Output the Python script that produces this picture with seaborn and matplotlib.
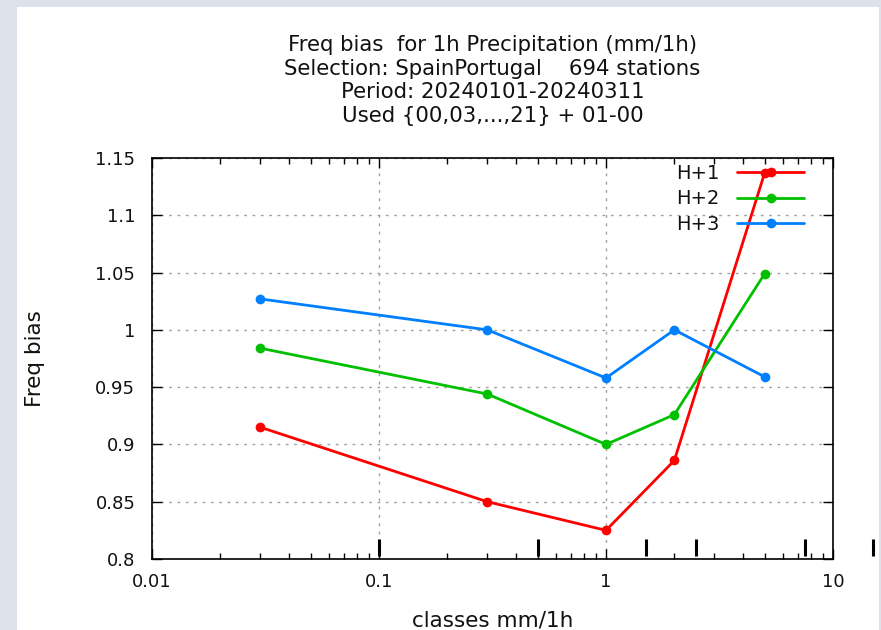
import numpy as np
import pandas as pd
import seaborn as sns
import matplotlib.pyplot as plt
from matplotlib.patches import Rectangle
from matplotlib.ticker import FixedLocator, LogLocator, NullFormatter

# values
classes = [0.03, 0.3, 1, 2, 5]
h1 = [0.915, 0.850, 0.825, 0.886, 1.137]
h2 = [0.984, 0.944, 0.900, 0.926, 1.049]
h3 = [1.027, 1.000, 0.958, 1.000, 0.959]
series_names = ["H+1", "H+2", "H+3"]
series_colors = ["#ff0000", "#00c000", "#0080ff"]
class_limits = [0.1, 0.5, 1.5, 2.5, 7.5, 15]
y_ticks = [0.8, 0.85, 0.9, 0.95, 1.0, 1.05, 1.1, 1.15]
y_ticklabels = ["0.8", "0.85", "0.9", "0.95", "1", "1.05", "1.1", "1.15"]
x_ticks = [0.01, 0.1, 1, 10]
x_ticklabels = ["0.01", "0.1", "1", "10"]

title = ("Freq bias  for 1h Precipitation (mm/1h)\n"
         "Selection: SpainPortugal    694 stations\n"
         "Period: 20240101-20240311\n"
         "Used {00,03,...,21} + 01-00")

df = pd.DataFrame({
    "classes": classes * 3,
    "bias": h1 + h2 + h3,
    "series": [s for s in series_names for _ in classes],
})

sns.set_style("ticks")
plt.rcParams["font.family"] = ["DejaVu Sans"]
plt.rcParams["text.color"] = "#111111"
plt.rcParams["axes.labelcolor"] = "#111111"
plt.rcParams["xtick.labelcolor"] = "#111111"
plt.rcParams["ytick.labelcolor"] = "#111111"

fig = plt.figure(figsize=(8.81, 6.3), dpi=100)
fig.patch.set_facecolor("#dde2ea")
# white page behind the plot
fig.patches.append(Rectangle((17 / 881, 0), 862 / 881, 623 / 630,
                             transform=fig.transFigure, facecolor="white",
                             edgecolor="none", zorder=-10))

ax = fig.add_axes([152 / 881, 71 / 630, 681 / 881, 401 / 630])
ax.set_facecolor("white")

sns.lineplot(data=df, x="classes", y="bias", hue="series",
             palette=dict(zip(series_names, series_colors)),
             marker="o", markersize=7, markeredgewidth=0,
             linewidth=2, ax=ax)

ax.set_xscale("log")
ax.set_xlim(0.01, 10)
ax.set_ylim(0.8, 1.15)
ax.xaxis.set_major_locator(FixedLocator(x_ticks))
ax.set_xticklabels(x_ticklabels)
ax.xaxis.set_minor_locator(LogLocator(base=10, subs=np.arange(2, 10)))
ax.xaxis.set_minor_formatter(NullFormatter())
ax.set_yticks(y_ticks)
ax.set_yticklabels(y_ticklabels)
ax.tick_params(which="both", direction="in", top=True, right=True,
               labelsize=13, color="black")
ax.tick_params(which="major", length=7, width=1)
ax.tick_params(which="minor", length=4, width=1)
ax.tick_params(axis="x", which="major", pad=10)
ax.tick_params(axis="y", which="major", pad=12)
for sp in ax.spines.values():
    sp.set_linewidth(1.2)
    sp.set_color("black")

ax.grid(True, which="major", linestyle=(0, (2, 4)), color="#a0a0a0", linewidth=1)

# class limit marks along the bottom
ax.vlines(class_limits, 0.8026, 0.8175, colors="black", linewidth=2.2,
          clip_on=False, zorder=5)

ax.set_xlabel("classes mm/1h", fontsize=15.5, labelpad=14)
ax.set_ylabel("Freq bias", fontsize=15.5, labelpad=36)
ax.set_title(title, fontsize=15.3, linespacing=1.22, pad=26)

leg = ax.legend(loc="upper right", frameon=False, markerfirst=False,
                fontsize=14, handlelength=3.45, handletextpad=0.9,
                labelspacing=0.35, borderaxespad=0.3, bbox_to_anchor=(0.978, 1.02))

fig.savefig("out.png", dpi=100, facecolor=fig.get_facecolor())
